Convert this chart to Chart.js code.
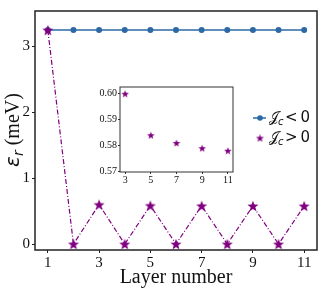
<!DOCTYPE html>
<html><head><meta charset="utf-8">
<script src="https://cdn.jsdelivr.net/npm/chart.js@4/dist/chart.umd.min.js"></script>
<style>
html,body{margin:0;padding:0;background:#fff;}
#wrap{position:relative;width:324px;height:288px;}
#main{position:absolute;left:0;top:0;}
#inset{position:absolute;left:95px;top:80px;}
</style></head>
<body>
<div id="wrap">
<canvas id="main" width="324" height="288"></canvas>
<canvas id="inset" width="145" height="106"></canvas>
</div>
<script>
// ---- data ----
const layers = [1,2,3,4,5,6,7,8,9,10,11];
const negativeJc = [3.25,3.25,3.25,3.25,3.25,3.25,3.25,3.25,3.25,3.25,3.25];
const positiveJc = [3.25,0,0.600,0,0.584,0,0.581,0,0.579,0,0.578];
const xTicks = [1,3,5,7,9,11];
const yTicks = [0,1,2,3];
const insetLayers = [3,5,7,9,11];
const insetValues = [0.600,0.584,0.581,0.579,0.578];
const insetXTicks = [3,5,7,9,11];
const insetYTicks = [0.57,0.58,0.59,0.60];
const legendLabels = ['\u{1D4A5}', '\u{1D4A5}'];

const BLUE = '#2b6aa5';
const PURPLE = '#800080';
const SERIF = '"Liberation Serif", "Times New Roman", serif';
const SANS = '"DejaVu Sans", sans-serif';

function starImage(R, color){
  const s = Math.ceil(R*2+2);
  const c = document.createElement('canvas');
  c.width = s; c.height = s;
  const g = c.getContext('2d');
  g.translate(s/2, s/2 + R*0.1);
  g.beginPath();
  const r = R*0.42;
  for(let i=0;i<10;i++){
    const a = -Math.PI/2 + i*Math.PI/5;
    const rad = i%2===0 ? R : r;
    const x = Math.cos(a)*rad, y = Math.sin(a)*rad;
    if(i===0) g.moveTo(x,y); else g.lineTo(x,y);
  }
  g.closePath();
  g.fillStyle = color; g.fill();
  return c;
}
const starMain = starImage(5.8, PURPLE);
const starInset = starImage(4, PURPLE);
const starLegend = starImage(4.2, PURPLE);

const toXY = (xs, ys) => xs.map((x,i)=>({x:x, y:ys[i]}));

const framePlugin = {
  id:'frame',
  afterDraw(chart, args, opts){
    const a = chart.chartArea, ctx = chart.ctx;
    ctx.save();
    ctx.strokeStyle = opts.color; ctx.lineWidth = opts.width;
    ctx.strokeRect(a.left, a.top, a.right-a.left, a.bottom-a.top);
    ctx.restore();
  }
};

const titlesPlugin = {
  id:'titles',
  afterDraw(chart){
    const ctx = chart.ctx, a = chart.chartArea;
    ctx.save();
    ctx.fillStyle = '#111';
    // x title
    ctx.font = '20px ' + SERIF;
    ctx.textAlign = 'center'; ctx.textBaseline = 'alphabetic';
    ctx.fillText('Layer number', (a.left+a.right)/2, 283);
    // y title rotated
    ctx.translate(19, 130);
    ctx.rotate(-Math.PI/2);
    const p1 = 'ε', p2 = 'r', p3 = ' (meV)';
    ctx.font = 'italic 20px ' + SANS; const w1 = ctx.measureText(p1).width;
    ctx.font = 'italic 14px ' + SANS; const w2 = ctx.measureText(p2).width;
    ctx.font = '20px ' + SERIF; const w3 = ctx.measureText(p3).width;
    let x = -(w1+w2+w3)/2;
    ctx.textAlign = 'left';
    ctx.font = 'italic 20px ' + SANS; ctx.fillText(p1, x, 0); x += w1;
    ctx.font = 'italic 14px ' + SANS; ctx.fillText(p2, x, 4); x += w2;
    ctx.font = '20px ' + SERIF; ctx.fillText(p3, x, 0);
    ctx.restore();
  }
};

const legendPlugin = {
  id:'customLegend',
  afterDraw(chart){
    const ctx = chart.ctx;
    const items = [
      {y:118, ds:chart.data.datasets[1], op:'< 0'},
      {y:138, ds:chart.data.datasets[0], op:'> 0'}
    ];
    ctx.save();
    items.forEach((it,i)=>{
      const cx = 260;
      if(i===0){
        ctx.strokeStyle = it.ds.borderColor; ctx.lineWidth = 1.5;
        ctx.beginPath(); ctx.moveTo(253, it.y); ctx.lineTo(266, it.y); ctx.stroke();
        ctx.fillStyle = it.ds.pointBackgroundColor;
        ctx.beginPath(); ctx.arc(cx, it.y, 2.8, 0, Math.PI*2); ctx.fill();
      } else {
        ctx.drawImage(starLegend, cx - starLegend.width/2, it.y - starLegend.height/2);
      }
      ctx.fillStyle = '#111';
      ctx.textBaseline = 'middle'; ctx.textAlign = 'left';
      ctx.font = '14px ' + SANS;
      let x = 269;
      ctx.fillText(legendLabels[i], x, it.y); x += ctx.measureText(legendLabels[i]).width - 1;
      ctx.font = 'italic 10px ' + SANS;
      ctx.fillText('c', x, it.y+4); x += ctx.measureText('c').width + 1.5;
      ctx.font = '15px ' + SANS;
      ctx.fillText(it.op.replace(' ', '\u2009'), x, it.y);
    });
    ctx.restore();
  }
};

new Chart(document.getElementById('main'), {
  type:'line',
  data:{
    datasets:[
      {
        label:'Jc > 0', data: toXY(layers, positiveJc),
        borderColor: PURPLE, backgroundColor: PURPLE, borderWidth:1.2,
        borderDash:[5,2,1,2], pointStyle: starMain, pointRadius:5,
        pointBackgroundColor: PURPLE, order:0, tension:0
      },
      {
        label:'Jc < 0', data: toXY(layers, negativeJc),
        borderColor: BLUE, backgroundColor: BLUE, borderWidth:1.5,
        pointStyle:'circle', pointRadius:3, pointBorderWidth:0,
        pointBackgroundColor: BLUE, order:1, tension:0
      }
    ]
  },
  options:{
    responsive:false, animation:false, devicePixelRatio:1,
    layout:{padding:{left:0,right:7,top:7,bottom:0}},
    plugins:{legend:{display:false}, tooltip:{enabled:false}, frame:{color:'#222', width:1.5}},
    scales:{
      x:{
        type:'linear', min:0.5, max:11.5,
        afterBuildTicks: s => { s.ticks = xTicks.map(v=>({value:v})); },
        afterFit: s => { s.height = 38; },
        grid:{drawOnChartArea:false, tickLength:3, color:'#222'},
        border:{display:false},
        ticks:{font:{family:SERIF, size:15}, color:'#111', padding:1, maxRotation:0}
      },
      y:{
        min:-0.09, max:3.54,
        afterBuildTicks: s => { s.ticks = yTicks.map(v=>({value:v})); },
        afterFit: s => { s.width = 35; },
        grid:{drawOnChartArea:false, tickLength:3, color:'#222'},
        border:{display:false},
        ticks:{font:{family:SERIF, size:15}, color:'#111', padding:2}
      }
    }
  },
  plugins:[framePlugin, titlesPlugin, legendPlugin]
});

new Chart(document.getElementById('inset'), {
  type:'scatter',
  data:{
    datasets:[{
      data: toXY(insetLayers, insetValues),
      pointStyle: starInset, pointRadius:4, backgroundColor:PURPLE, borderColor:PURPLE
    }]
  },
  options:{
    responsive:false, animation:false, devicePixelRatio:1,
    layout:{padding:{left:0,right:7,top:6,bottom:0}},
    plugins:{legend:{display:false}, tooltip:{enabled:false}, frame:{color:'#333', width:1}},
    scales:{
      x:{
        type:'linear', min:2.6, max:11.4,
        afterBuildTicks: s => { s.ticks = insetXTicks.map(v=>({value:v})); },
        afterFit: s => { s.height = 14; },
        grid:{drawOnChartArea:false, tickLength:2, color:'#333'},
        border:{display:false},
        ticks:{font:{family:SERIF, size:10}, color:'#111', padding:0, maxRotation:0}
      },
      y:{
        min:0.5698, max:0.6026,
        afterBuildTicks: s => { s.ticks = insetYTicks.map(v=>({value:v})); },
        afterFit: s => { s.width = 25; },
        grid:{drawOnChartArea:false, tickLength:2, color:'#333'},
        border:{display:false},
        ticks:{font:{family:SERIF, size:10}, color:'#111', padding:1, callback: v => v.toFixed(2)}
      }
    }
  },
  plugins:[framePlugin]
});
</script>
</body></html>
